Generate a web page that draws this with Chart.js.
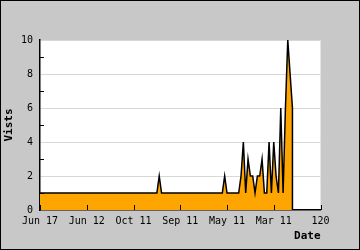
<!DOCTYPE html>
<html>
<head>
<meta charset="utf-8">
<script src="https://cdn.jsdelivr.net/npm/chart.js@4.4.1/dist/chart.umd.min.js"></script>
<style>
  html, body { margin: 0; padding: 0; background: #c8c8c8; }
  canvas { display: block; }
</style>
</head>
<body>
<canvas id="visits" width="360" height="250"></canvas>
<script>
// x position of each sample (the last one closes the area down to 0)
const days = [
  0, 1, 2, 3, 4, 5, 6, 7, 8, 9, 10, 11, 12, 13, 14, 15, 16, 17, 18, 19,
  20, 21, 22, 23, 24, 25, 26, 27, 28, 29, 30, 31, 32, 33, 34, 35, 36, 37, 38, 39,
  40, 41, 42, 43, 44, 45, 46, 47, 48, 49, 50, 51, 52, 53, 54, 55, 56, 57, 58, 59,
  60, 61, 62, 63, 64, 65, 66, 67, 68, 69, 70, 71, 72, 73, 74, 75, 76, 77, 78, 79,
  80, 81, 82, 83, 84, 85, 86, 87, 88, 89, 90, 91, 92, 93, 94, 95, 96, 97, 98, 99,
  100, 101, 102, 103, 104, 105, 106, 107, 108, 108
];
const visits = [
  1, 1, 1, 1, 1, 1, 1, 1, 1, 1, 1, 1, 1, 1, 1, 1, 1, 1, 1, 1,
  1, 1, 1, 1, 1, 1, 1, 1, 1, 1, 1, 1, 1, 1, 1, 1, 1, 1, 1, 1,
  1, 1, 1, 1, 1, 1, 1, 1, 1, 1, 1, 2, 1, 1, 1, 1, 1, 1, 1, 1,
  1, 1, 1, 1, 1, 1, 1, 1, 1, 1, 1, 1, 1, 1, 1, 1, 1, 1, 1, 2,
  1, 1, 1, 1, 1, 1, 2, 4, 1, 3, 2, 2, 1, 2, 2, 3, 1, 1, 4, 1,
  4, 2, 1, 6, 1, 6, 10, 8, 6, 0
];
const xTickLabels = ['Jun 17', 'Jun 12', 'Oct 11', 'Sep 11', 'May 11', 'Mar 11', '120'];

const MONO = '"DejaVu Sans Mono", monospace';

// gray page, white plot, black frame, and the small inward tick marks
const frame = {
  id: 'frame',
  beforeDraw(chart) {
    const { ctx, chartArea: a } = chart;
    ctx.save();
    ctx.fillStyle = '#c8c8c8';
    ctx.fillRect(0, 0, chart.width, chart.height);
    ctx.fillStyle = '#ffffff';
    ctx.fillRect(a.left, a.top, a.right - a.left, a.bottom - a.top);
    ctx.restore();
  },
  afterDraw(chart) {
    const { ctx, chartArea: a, scales } = chart;
    ctx.save();
    ctx.strokeStyle = '#000';
    ctx.lineWidth = 1;
    ctx.beginPath();
    scales.x.ticks.forEach(t => {
      const px = Math.round(scales.x.getPixelForValue(t.value)) + 0.5;
      ctx.moveTo(px, a.bottom);
      ctx.lineTo(px, a.bottom - 5);
    });
    scales.y.ticks.forEach(t => {
      if (t.value % 2 === 1) {
        const py = Math.round(scales.y.getPixelForValue(t.value)) + 0.5;
        ctx.moveTo(a.left, py);
        ctx.lineTo(a.left + 4, py);
      }
    });
    ctx.stroke();
    ctx.strokeRect(0.5, 0.5, chart.width - 1, chart.height - 1);
    ctx.restore();
  }
};

new Chart(document.getElementById('visits'), {
  type: 'line',
  data: {
    datasets: [{
      label: 'Vists',
      data: days.map((d, i) => ({ x: d, y: visits[i] })),
      borderColor: '#000000',
      borderWidth: 1.5,
      backgroundColor: '#ffa500',
      fill: 'origin',
      tension: 0,
      pointRadius: 0
    }]
  },
  options: {
    responsive: false,
    animation: false,
    devicePixelRatio: 1,
    layout: { padding: { top: 40, right: 39.5, left: 0, bottom: 0 } },
    plugins: {
      legend: { display: false },
      tooltip: { enabled: false }
    },
    scales: {
      x: {
        type: 'linear',
        min: 0,
        max: 120,
        afterFit: s => { s.height = 40; },
        ticks: {
          stepSize: 20,
          maxRotation: 0,
          padding: 5,
          color: '#000',
          font: { family: MONO, size: 10 },
          callback: (v) => xTickLabels[v / 20]
        },
        grid: { display: false, drawTicks: false },
        border: { color: '#000', width: 1.5 },
        title: {
          display: true,
          text: 'Date',
          align: 'end',
          color: '#000',
          font: { family: MONO, size: 11, weight: 'bold' },
          padding: { top: 0, bottom: 7 }
        }
      },
      y: {
        min: 0,
        max: 10,
        afterFit: s => { s.width = 40; },
        ticks: {
          stepSize: 1,
          padding: 7,
          color: '#000',
          font: { family: MONO, size: 10 },
          callback: (v) => (v % 2 === 0 ? v : '')
        },
        grid: {
          drawTicks: false,
          color: c => (c.tick && c.tick.value % 2 === 0 && c.tick.value > 0 ? '#d8d8d8' : 'rgba(0,0,0,0)')
        },
        border: { color: '#000', width: 1.5 },
        title: {
          display: true,
          text: 'Vists',
          color: '#000',
          font: { family: MONO, size: 11, weight: 'bold' },
          padding: { top: 3, bottom: 0 }
        }
      }
    }
  },
  plugins: [frame]
});
</script>
</body>
</html>
